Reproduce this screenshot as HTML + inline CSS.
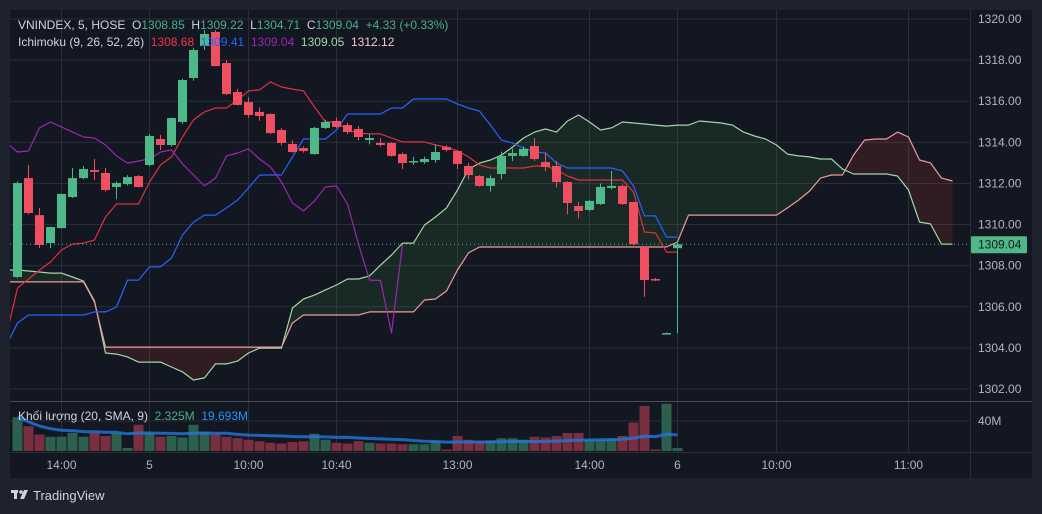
<!DOCTYPE html>
<html><head><meta charset="utf-8"><style>
html,body{margin:0;padding:0;background:#1e222d;width:1042px;height:514px;overflow:hidden;position:relative}
svg{display:block;position:absolute;left:0;top:0;font-family:"Liberation Sans","Noto Sans CJK JP",sans-serif}
</style></head><body>
<svg id="chart" width="1042" height="514" viewBox="0 0 1042 514" xmlns="http://www.w3.org/2000/svg">
<rect x="0" y="0" width="1042" height="514" fill="#1e222d"/>
<rect x="10" y="10" width="1022" height="468" fill="#131722"/>
<defs>
<clipPath id="pricePane"><rect x="10" y="10" width="960" height="391"/></clipPath>
<clipPath id="volPane"><rect x="10" y="401" width="960" height="51"/></clipPath>
</defs>
<g id="grid"></g>
<g id="cloud" clip-path="url(#pricePane)"></g>
<g id="lines" clip-path="url(#pricePane)"></g>
<g id="candles" clip-path="url(#pricePane)"></g>
<g id="volume" clip-path="url(#volPane)"></g>
<g id="axes"></g>
<g font-size="12">
<text x="18" y="29" fill="#d1d4dc" xml:space="preserve">VNINDEX, 5, HOSE  O<tspan fill="#4caf8a">1308.85</tspan>  H<tspan fill="#4caf8a">1309.22</tspan>  L<tspan fill="#4caf8a">1304.71</tspan>  C<tspan fill="#4caf8a">1309.04</tspan>  <tspan fill="#4caf8a">+4.33 (+0.33%)</tspan></text>
</g>
<g font-size="12">
<text x="18" y="46" fill="#d1d4dc" xml:space="preserve">Ichimoku (9, 26, 52, 26)  <tspan fill="#f23645">1308.68</tspan>  <tspan fill="#2962ff">1309.41</tspan>  <tspan fill="#9c27b0">1309.04</tspan>  <tspan fill="#a5d6a7">1309.05</tspan>  <tspan fill="#f8c8c8">1312.12</tspan></text>
</g>
<g font-size="12">
<text x="18" y="420" fill="#d1d4dc" xml:space="preserve">Khối lượng (20, SMA, 9)  <tspan fill="#4caf8a">2.325M</tspan>  <tspan fill="#2196f3">19.693M</tspan></text>
</g>
<g>
<rect x="11" y="490" width="7" height="3" fill="#d1d4dc"/>
<rect x="14" y="490" width="3" height="9" fill="#d1d4dc"/>
<circle cx="21" cy="492" r="1.8" fill="#d1d4dc"/>
<polygon points="24,490 28,490 24,499 20,499" fill="#d1d4dc"/>
<text x="33" y="500" font-size="13" fill="#d1d4dc">TradingView</text>
</g>
</svg>
<script>
const opens=[1307.45,1312.26,1310.46,1309.10,1309.83,1311.34,1312.26,1312.65,1312.51,1311.83,1311.97,1312.36,1312.90,1314.16,1313.87,1314.99,1317.13,1318.69,1319.37,1317.86,1316.45,1315.96,1315.48,1315.38,1314.60,1313.92,1313.72,1313.43,1314.70,1315.04,1314.84,1314.65,1314.11,1313.97,1313.97,1313.43,1313.04,1313.04,1313.14,1313.77,1313.58,1312.85,1312.36,1311.88,1312.46,1313.34,1313.34,1313.82,1313.04,1312.85,1312.07,1310.90,1310.71,1311.00,1311.78,1311.88,1311.10,1308.91,1307.35,1304.68,1308.85];
const highs=[1312.1,1312.9,1310.81,1309.9,1311.5,1312.75,1312.85,1313.19,1312.75,1312.1,1312.4,1312.4,1314.4,1314.36,1315.2,1317.1,1318.6,1319.46,1319.46,1318.0,1316.6,1316.2,1315.7,1315.4,1314.7,1314.1,1313.8,1314.75,1315.1,1315.2,1314.95,1314.8,1314.4,1314.2,1314.0,1313.5,1313.3,1313.3,1313.9,1313.85,1313.6,1313.0,1312.4,1312.4,1313.55,1313.7,1313.8,1314.2,1313.5,1313.1,1312.1,1311.1,1311.2,1312.0,1312.61,1311.95,1311.1,1308.95,1307.4,1304.75,1309.22];
const lows=[1307.4,1310.5,1308.86,1308.86,1309.8,1311.3,1312.2,1312.17,1311.6,1311.24,1311.9,1311.8,1312.85,1313.63,1313.8,1314.9,1317.0,1318.5,1317.7,1316.3,1315.8,1315.2,1315.05,1314.4,1313.85,1313.5,1313.5,1313.4,1314.65,1314.7,1314.4,1314.1,1313.9,1313.8,1313.3,1312.7,1312.9,1312.95,1313.0,1313.55,1312.7,1312.2,1311.85,1311.6,1312.2,1313.1,1313.3,1313.1,1312.6,1311.8,1310.5,1310.3,1310.65,1310.95,1311.7,1310.95,1309.0,1306.48,1307.25,1304.65,1304.71];
const closes=[1312.02,1310.56,1309.01,1309.88,1311.49,1312.26,1312.70,1312.56,1311.68,1312.02,1312.31,1311.83,1314.31,1313.87,1315.18,1317.03,1318.49,1319.27,1317.71,1316.35,1315.82,1315.33,1315.28,1314.45,1313.97,1313.53,1313.58,1314.70,1314.99,1314.75,1314.50,1314.26,1314.21,1313.87,1313.34,1312.99,1313.09,1313.19,1313.53,1313.63,1312.95,1312.41,1311.88,1312.26,1313.34,1313.48,1313.68,1313.19,1312.80,1312.07,1311.05,1310.66,1311.15,1311.83,1311.88,1311.00,1309.05,1307.30,1307.28,1304.72,1309.04];
const volumes=[45,33,22,19,19,24,19,24,20,24,4,35,24,19,20,18,35,26,22,19,17,15,13,11,10,12,13,23,15,11,10,13,11,10,10,9,9,9,13,2,20,15,13,14,17,17,15,19,18,20,24,24,15,15,16,20,38,60,2,63,4];
const tenkan=[1304.63,1306.91,1307.35,1307.79,1308.18,1308.76,1309.05,1309.10,1309.25,1310.37,1311.00,1311.00,1311.00,1312.07,1312.90,1313.29,1314.26,1315.09,1315.48,1315.67,1315.67,1316.06,1316.50,1316.55,1316.94,1316.69,1316.59,1316.50,1315.72,1314.99,1314.99,1314.60,1314.45,1314.41,1314.41,1314.21,1314.02,1314.02,1314.02,1313.87,1313.77,1313.58,1313.29,1312.90,1312.75,1312.75,1312.75,1312.75,1312.85,1312.85,1312.65,1312.36,1312.17,1312.17,1312.17,1312.17,1312.17,1311.58,1309.64,1309.59,1308.66,1308.66];
const kijun=[1304.14,1305.21,1305.60,1305.60,1305.60,1305.60,1305.60,1305.60,1305.75,1305.75,1305.99,1307.30,1307.30,1307.94,1307.94,1308.37,1309.49,1310.12,1310.46,1310.46,1310.81,1311.19,1311.78,1312.41,1312.41,1312.41,1313.29,1314.16,1314.16,1314.16,1314.60,1315.38,1315.38,1315.38,1315.38,1315.67,1315.67,1316.11,1316.11,1316.11,1316.11,1315.86,1315.67,1315.52,1314.84,1314.11,1313.97,1313.72,1313.53,1313.48,1312.99,1312.75,1312.75,1312.75,1312.75,1312.75,1312.61,1311.88,1310.42,1310.42,1309.39,1309.39];
const spanA=[1307.79,1307.79,1307.74,1307.69,1307.64,1307.64,1307.45,1307.25,1306.28,1303.75,1303.70,1303.56,1303.31,1303.31,1303.31,1303.07,1302.83,1302.44,1302.54,1303.22,1303.22,1303.36,1303.75,1303.99,1303.99,1303.99,1305.94,1306.38,1306.57,1306.82,1307.06,1307.35,1307.35,1307.50,1308.03,1308.52,1309.10,1309.10,1309.98,1310.37,1310.81,1311.68,1312.70,1312.99,1313.14,1313.38,1313.77,1314.21,1314.50,1314.65,1314.50,1315.04,1315.33,1314.99,1314.60,1314.70,1314.99,1314.94,1314.89,1314.84,1314.79,1314.84,1314.84,1315.04,1314.99,1314.94,1314.84,1314.50,1314.31,1314.16,1313.87,1313.43,1313.34,1313.29,1313.19,1313.19,1312.70,1312.46,1312.46,1312.46,1312.46,1312.36,1311.68,1310.12,1310.03,1309.05,1309.05];
const spanB=[1307.21,1307.21,1307.21,1307.21,1307.21,1307.21,1307.21,1307.21,1306.23,1304.04,1304.04,1304.04,1304.04,1304.04,1304.04,1304.04,1304.04,1304.04,1304.04,1304.04,1304.04,1304.04,1304.04,1304.04,1304.04,1304.04,1305.21,1305.60,1305.60,1305.60,1305.60,1305.60,1305.60,1305.75,1305.75,1305.75,1305.75,1305.75,1306.33,1306.38,1306.77,1307.79,1308.62,1308.91,1308.91,1308.91,1308.91,1308.91,1308.91,1308.91,1308.91,1308.91,1308.91,1308.91,1308.91,1308.91,1308.91,1308.91,1308.91,1308.91,1308.91,1309.15,1310.46,1310.46,1310.46,1310.46,1310.46,1310.46,1310.46,1310.46,1310.46,1310.81,1311.19,1311.63,1312.26,1312.41,1312.41,1313.38,1314.11,1314.16,1314.16,1314.50,1314.26,1313.14,1313.00,1312.26,1312.12];
const chikouShift=25;
const priceTicks=[1302,1304,1306,1308,1310,1312,1314,1316,1318,1320];
const timeLabels=["14:00","5","10:00","10:40","13:00","14:00","6","10:00","11:00"];
const timeBars=[4,12,21,29,40,52,60,69,81];
const volTicks=[40];
const lastPrice=1309.04;

const NS="http://www.w3.org/2000/svg";
const X0=17.5, STEP=11;
function xB(b){return X0+STEP*b;}
function yP(p){return 19+(1320-p)*20.556;}
function yV(v){return 451-v*0.75;}
function mk(tag,attrs,parent){const e=document.createElementNS(NS,tag);for(const k in attrs)e.setAttribute(k,attrs[k]);parent.appendChild(e);return e;}
const grid=document.getElementById('grid'),cloud=document.getElementById('cloud'),lines=document.getElementById('lines'),cg=document.getElementById('candles'),vg=document.getElementById('volume'),ax=document.getElementById('axes');

priceTicks.forEach(p=>{const l=mk('line',{x1:10,x2:970,y1:yP(p),y2:yP(p),stroke:'#2a2e39','stroke-width':1},grid);

});
timeBars.forEach(b=>{const l=mk('line',{x1:xB(b),x2:xB(b),y1:10,y2:452,stroke:'#2a2e39','stroke-width':1},grid);

});
volTicks.forEach(v=>{const l=mk('line',{x1:10,x2:970,y1:yV(v),y2:yV(v),stroke:'#2a2e39','stroke-width':1},grid);

});

function pts(arr,start){return arr.map((v,i)=>xB(i+start).toFixed(1)+','+yP(v).toFixed(1));}
const aP=pts(spanA,-1), bP=pts(spanB,-1);
const xs=xB(-1).toFixed(1), xe=xB(spanA.length-2).toFixed(1);
const defs=mk('defs',{},cloud);
const c1=mk('clipPath',{id:'aboveB'},defs); mk('polygon',{points:bP.join(' ')+' '+xe+',10 '+xs+',10'},c1);
const c2=mk('clipPath',{id:'aboveA'},defs); mk('polygon',{points:aP.join(' ')+' '+xe+',10 '+xs+',10'},c2);
const gf=mk('polygon',{points:aP.join(' ')+' '+xe+',452 '+xs+',452',fill:'rgba(67,160,71,0.13)','clip-path':'url(#aboveB)'},cloud);


const rf=mk('polygon',{points:bP.join(' ')+' '+xe+',452 '+xs+',452',fill:'rgba(244,67,54,0.13)','clip-path':'url(#aboveA)'},cloud);



function line(arr,start,color,name){const e=mk('polyline',{points:pts(arr,start).join(' '),fill:'none',stroke:color,'stroke-width':1.2,'stroke-linejoin':'round'},lines);

}
line(spanA,-1,'#a5d6a7','senkou-span-a');
line(spanB,-1,'#ef9a9a','senkou-span-b');
line(tenkan,-1,'#e03040','tenkan-sen');
line(kijun,-1,'#2962ff','kijun-sen');
const chik=closes.slice(chikouShift-1);
line(chik,-1,'#9c27b0','chikou-span');

const dl=mk('line',{x1:10,x2:970,y1:yP(lastPrice),y2:yP(lastPrice),stroke:'#4caf8a','stroke-width':1,'stroke-dasharray':'1 3'},ax);



const GREEN='#4fb888',RED='#ef5061';
closes.forEach((c,i)=>{const o=opens[i],up=c>=o,col=up?GREEN:RED,x=xB(i);
const g=mk('g',{},cg);


mk('line',{x1:x,x2:x,y1:yP(highs[i]),y2:yP(lows[i]),stroke:col,'stroke-width':1},g);
const t=yP(Math.max(o,c)),bt=yP(Math.min(o,c));
mk('rect',{x:x-4.5,y:t,width:9,height:Math.max(1.5,bt-t),fill:col},g);});

volumes.forEach((v,i)=>{const up=closes[i]>=opens[i];
const r=mk('rect',{x:xB(i)-5,y:yV(v),width:10,height:451-yV(v),fill:up?'#2d5f4e':'#7a2f40'},vg);

});
const ma=volumes.map((v,i)=>{const s=volumes.slice(Math.max(0,i-19),i+1);return s.reduce((a,b)=>a+b,0)/s.length;});
const mal=mk('polyline',{points:ma.map((v,i)=>xB(i).toFixed(1)+','+yV(v).toFixed(1)).join(' '),fill:'none',stroke:'rgba(33,120,220,0.8)','stroke-width':3,'stroke-linejoin':'round'},vg);



mk('line',{x1:970.5,x2:970.5,y1:10,y2:478,stroke:'#2a2e39','stroke-width':1},ax);
mk('line',{x1:10,x2:1032,y1:401.5,y2:401.5,stroke:'#4a4e59','stroke-width':1},ax);
mk('line',{x1:10,x2:1032,y1:452.5,y2:452.5,stroke:'#2a2e39','stroke-width':1},ax);
priceTicks.forEach(p=>{const t=mk('text',{x:978,y:yP(p)+4,fill:'#b2b5be','font-size':12},ax);t.textContent=p.toFixed(2);

});
volTicks.forEach(v=>{const t=mk('text',{x:978,y:yV(v)+4,fill:'#b2b5be','font-size':12},ax);t.textContent=v+'M';

});
timeLabels.forEach((s,i)=>{const t=mk('text',{x:xB(timeBars[i]),y:469,fill:'#b2b5be','font-size':12,'text-anchor':'middle'},ax);t.textContent=s;

});
const lb=mk('rect',{x:971,y:yP(lastPrice)-8,width:56,height:17,fill:'#4fb888',rx:1},ax);


const lt=mk('text',{x:978,y:yP(lastPrice)+4,fill:'#131722','font-size':12},ax);lt.textContent=lastPrice.toFixed(2);


</script>
</body></html>
